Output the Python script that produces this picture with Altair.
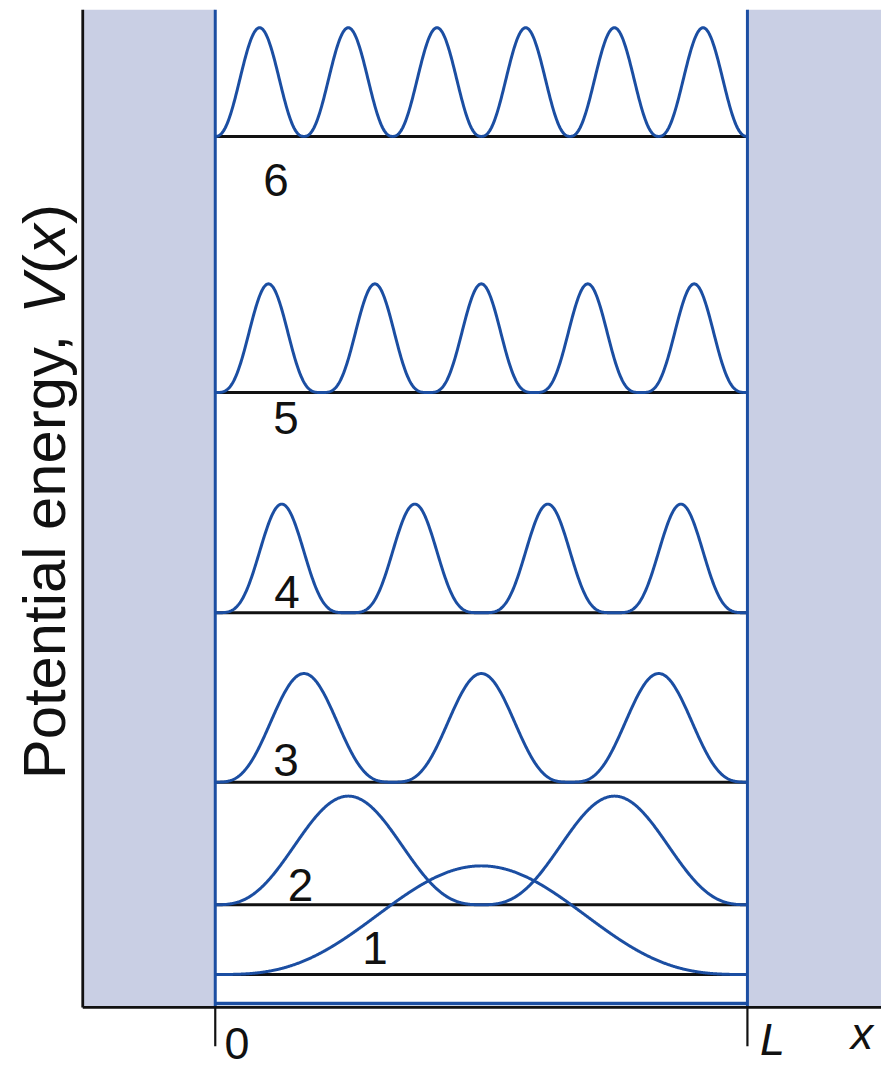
import numpy as np
import pandas as pd
import altair as alt

# ---- values ----
quantum_n = [1, 2, 3, 4, 5, 6]
level_energy = [33, 103, 226, 396, 617, 874]      # energy of each level (axis units)
peak_height = 109                                  # height of |psi|^2 peaks (axis units)
peak_sharpness = [1.5, 1.4, 1.6, 2.0, 1.7, 1.2]    # exponent applied to sin^2 shape
level_labels = ["1", "2", "3", "4", "5", "6"]
label_x = [0.300, 0.160, 0.133, 0.135, 0.133, 0.114]
label_y = [44, 107, 232, 401, 575, 814]
box_edges = [0.0, 1.0]
floor_energy = 4
x_domain = [-0.249, 1.251]
y_top = 1001
tick_depth = -39
axis_labels = ["0", "L", "x"]
axis_label_x = [0.041, 1.047, 1.215]
axis_label_y = [-52, -48, -42]
axis_label_italic = [False, True, True]
y_title_parts = ["Potential energy, ", "V", "(", "x", ")"]
y_title_italic = [False, True, False, True, False]
y_title_start = [229, 696, 736, 756, 786]
y_title_x = -0.283

BLUE = "#1b4ea2"
WALL = "#c9cfe4"
INK = "#111111"
FONT = "Liberation Sans"

xs = np.linspace(0.0, 1.0, 901)
rows = []
for n, e, p in zip(quantum_n, level_energy, peak_sharpness):
    yv = e + peak_height * np.abs(np.sin(n * np.pi * xs)) ** (2 * p)
    for a, b in zip(xs, yv):
        rows.append({"n": n, "x": float(a), "y": float(b)})
curves = pd.DataFrame(rows)

xs_scale = alt.Scale(domain=x_domain, nice=False, zero=False)
ys_scale = alt.Scale(domain=[0, y_top], nice=False, zero=False)


def X(f="x"):
    return alt.X(f + ":Q", scale=xs_scale, axis=None)


def Y(f="y"):
    return alt.Y(f + ":Q", scale=ys_scale, axis=None)


walls = pd.DataFrame({
    "x": [x_domain[0], box_edges[1]],
    "x2": [box_edges[0], x_domain[1]],
    "y": [0, 0],
    "y2": [y_top, y_top],
})
wall_layer = alt.Chart(walls).mark_rect(color=WALL).encode(x=X(), x2="x2", y=Y(), y2="y2")

edge_df = pd.DataFrame({"x": box_edges, "y": [0, 0], "y2": [y_top, y_top]})
edge_layer = alt.Chart(edge_df).mark_rule(color=BLUE, strokeWidth=3).encode(
    x=X(), y=Y(), y2="y2")

floor_df = pd.DataFrame({"x": [box_edges[0]], "x2": [box_edges[1]], "y": [floor_energy]})
floor_layer = alt.Chart(floor_df).mark_rule(color=BLUE, strokeWidth=3.5).encode(
    x=X(), x2="x2", y=Y())

lev_df = pd.DataFrame({"x": [box_edges[0]] * 6, "x2": [box_edges[1]] * 6, "y": level_energy})
lev_layer = alt.Chart(lev_df).mark_rule(color=INK, strokeWidth=3).encode(
    x=X(), x2="x2", y=Y())

curve_layer = alt.Chart(curves).mark_line(color=BLUE, strokeWidth=3).encode(
    x=X(), y=Y(), detail="n:N")

axis_df = pd.DataFrame({
    "x": [x_domain[0], x_domain[0]], "x2": [x_domain[0], x_domain[1]],
    "y": [0, 0], "y2": [y_top, 0]})
axis_layer = alt.Chart(axis_df).mark_rule(color=INK, strokeWidth=2.8).encode(
    x=X(), x2="x2", y=Y(), y2="y2")

tick_df = pd.DataFrame({"x": box_edges, "y": [0, 0], "y2": [tick_depth, tick_depth]})
tick_layer = alt.Chart(tick_df).mark_rule(color=INK, strokeWidth=2.2).encode(
    x=X(), y=Y(), y2="y2")

lab_df = pd.DataFrame({"t": level_labels, "x": label_x, "y": label_y})
lab_layer = alt.Chart(lab_df).mark_text(font=FONT, fontSize=46, color=INK,
                                        align="center", baseline="alphabetic").encode(
    x=X(), y=Y(), text="t:N")

ax_df = pd.DataFrame({"t": axis_labels, "x": axis_label_x, "y": axis_label_y,
                      "it": axis_label_italic})
ax_norm = alt.Chart(ax_df[~ax_df["it"]]).mark_text(
    font=FONT, fontSize=45, color=INK, align="center", baseline="alphabetic").encode(
    x=X(), y=Y(), text="t:N")
ax_ital = alt.Chart(ax_df[ax_df["it"]]).mark_text(
    font=FONT, fontSize=45, fontStyle="italic", color=INK,
    align="center", baseline="alphabetic").encode(
    x=X(), y=Y(), text="t:N")

title_df = pd.DataFrame({"t": y_title_parts, "y": y_title_start,
                         "x": [y_title_x] * len(y_title_parts), "it": y_title_italic})
title_norm = alt.Chart(title_df[~title_df["it"]]).mark_text(
    font=FONT, fontSize=60, color=INK, angle=270,
    align="left", baseline="alphabetic").encode(x=X(), y=Y(), text="t:N")
title_ital = alt.Chart(title_df[title_df["it"]]).mark_text(
    font=FONT, fontSize=60, fontStyle="italic", color=INK, angle=270,
    align="left", baseline="alphabetic").encode(x=X(), y=Y(), text="t:N")

chart = alt.layer(
    wall_layer, floor_layer, lev_layer, curve_layer, edge_layer,
    axis_layer, tick_layer, lab_layer, ax_norm, ax_ital, title_norm, title_ital
).properties(
    width=801, height=1001,
    autosize=alt.AutoSizeParams(type="none"),
    padding={"left": 75, "top": 0, "right": 0, "bottom": 60},
).configure_view(stroke=None)

chart.save("out.html", embed_options={"renderer": "svg", "actions": False})
